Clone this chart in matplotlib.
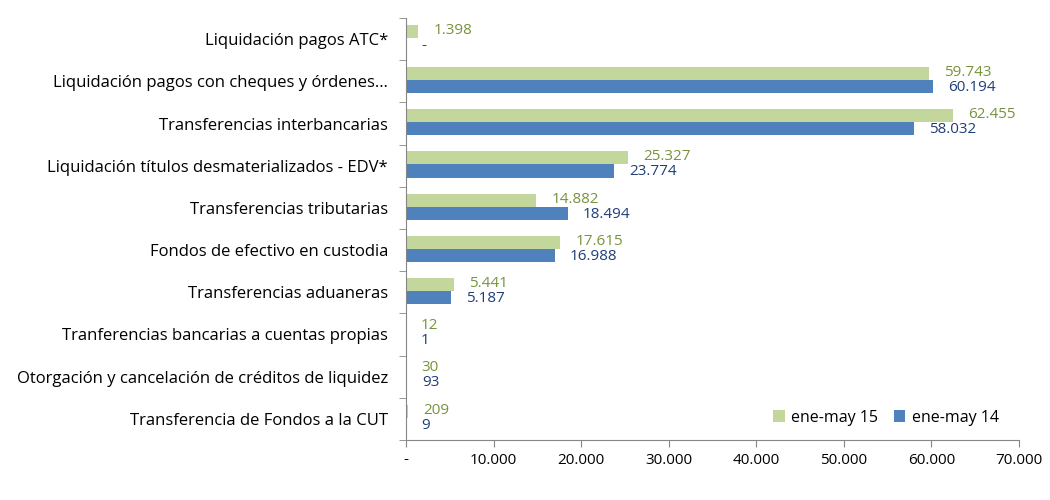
import matplotlib
matplotlib.use("Agg")
import matplotlib.pyplot as plt
import numpy as np
from matplotlib.ticker import FixedLocator, FuncFormatter
from matplotlib.transforms import offset_copy

categories = [
    "Liquidación pagos ATC*",
    "Liquidación pagos con cheques y órdenes…",
    "Transferencias interbancarias",
    "Liquidación títulos desmaterializados - EDV*",
    "Transferencias tributarias",
    "Fondos de efectivo en custodia",
    "Transferencias aduaneras",
    "Tranferencias bancarias a cuentas propias",
    "Otorgación y cancelación de créditos de liquidez",
    "Transferencia de Fondos a la CUT",
]
vals_15 = [1398, 59743, 62455, 25327, 14882, 17615, 5441, 12, 30, 209]
vals_14 = [0, 60194, 58032, 23774, 18494, 16988, 5187, 1, 93, 9]
series_names = ["ene-may 15", "ene-may 14"]
xticks = [0, 10000, 20000, 30000, 40000, 50000, 60000, 70000]

c15 = "#C3D69B"
c14 = "#4F81BD"
t15 = "#77933C"
t14 = "#1F3E78"
axis_col = "#868686"

plt.rcParams['font.family'] = ['Open Sans', 'DejaVu Sans']

def fmt(v):
    if v == 0:
        return "-"
    return f"{int(v):,}".replace(",", ".")

fig = plt.figure(figsize=(10.5, 5), dpi=100)
ax = fig.add_axes([0.3867, 0.12, 0.9705 - 0.3867, 0.964 - 0.12])

n = len(categories)
y = np.arange(n)
h = 0.31
b15 = ax.barh(y - h / 2 - 0.03, vals_15, height=h, color=c15, label=series_names[0])
b14 = ax.barh(y + h / 2 - 0.03, vals_14, height=h, color=c14, label=series_names[1])

ax.set_xlim(0, 70000)
ax.set_ylim(n - 0.5, -0.5)

for bars, vals, col, dy in ((b15, vals_15, t15, 1), (b14, vals_14, t14, -1)):
    for bar, v in zip(bars, vals):
        yc = bar.get_y() + bar.get_height() / 2
        tr = offset_copy(ax.transData, fig=fig, x=15, y=dy, units='dots')
        ax.text(v, yc, fmt(v), transform=tr, color=col, fontsize=11,
                va='center', ha='left')

ax.xaxis.set_major_locator(FixedLocator(xticks))
ax.xaxis.set_major_formatter(FuncFormatter(lambda v, p: fmt(v)))
ax.set_yticks(y)
ax.set_yticklabels(categories, fontsize=12)
ax.set_yticks(np.arange(n + 1) - 0.5, minor=True)
ax.tick_params(axis='y', which='major', length=0, pad=13)
ax.tick_params(axis='y', which='minor', length=5, color=axis_col, direction='out')
ax.tick_params(axis='x', length=5, color=axis_col, labelsize=11, pad=4)

for s in ['top', 'right']:
    ax.spines[s].set_visible(False)
ax.spines['left'].set_color(axis_col)
ax.spines['bottom'].set_color(axis_col)

leg = ax.legend(loc='lower right', bbox_to_anchor=(0.99, 0.0), ncol=2, frameon=False,
                fontsize=11.5, handlelength=0.7, handleheight=0.7, columnspacing=1.0,
                handletextpad=0.4)

fig.savefig("out.png", dpi=100)
